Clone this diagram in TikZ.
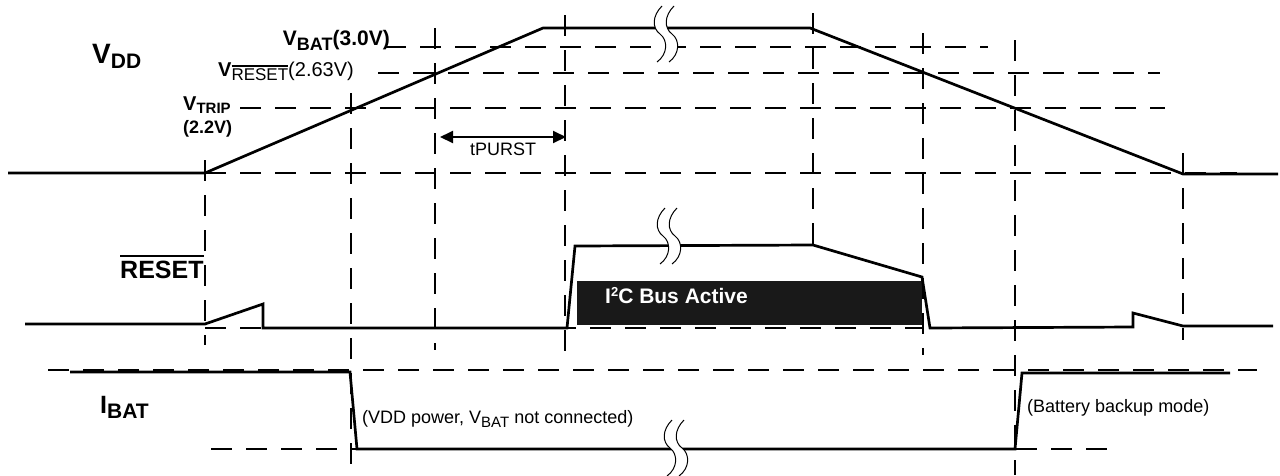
\documentclass[tikz,border=0pt]{standalone}
\usepackage{fontspec}
\setmainfont{Liberation Sans}
\usetikzlibrary{arrows.meta}
\newcommand{\sbx}[3]{\raisebox{-#1pt}{\fontsize{#2}{#2}\selectfont #3}}
\newcommand{\ovl}[3]{\leavevmode\vbox{\hrule height #1pt\kern #2pt\hbox{#3}}}
\begin{document}
\begin{tikzpicture}[x=1pt,y=-1pt,
  grid/.style={line width=1.8pt, dash pattern=on 21pt off 14pt},
  gridthick/.style={line width=2.6pt, dash pattern=on 21pt off 14pt},
  trace/.style={line width=2.7pt},
  lbl/.style={anchor=base west, inner sep=0pt},
  brk/.pic={
    \fill[white] (0,0) .. controls (-10,10) and (-10,22) .. (-2,28) .. controls (6,34) and (6,48) .. (-5,56)
      -- (7,56) .. controls (18,48) and (18,34) .. (10,28) .. controls (2,22) and (2,10) .. (12,0) -- cycle;
    \draw[line width=1pt] (0,0) .. controls (-10,10) and (-10,22) .. (-2,28) .. controls (6,34) and (6,48) .. (-5,56);
    \draw[line width=1pt] (12,0) .. controls (2,10) and (2,22) .. (10,28) .. controls (18,34) and (18,48) .. (7,56);
  }]
\useasboundingbox (0,0) rectangle (1280,475);

% horizontal reference lines
\draw[gridthick] (385,47) -- (988,47);
\draw[gridthick] (378,73) -- (1160,73);
\draw[grid] (240,108) -- (1165,108);
\draw[grid] (205,173) -- (1237,173);
\draw[grid] (205,328) -- (923,328);
\draw[grid] (48,370) -- (1257,370);
\draw[grid] (211,449) -- (1107,449);

% vertical reference lines
\draw[grid] (205,160) -- (205,345);
\draw[grid] (351,93) -- (351,475);
\draw[grid] (435,28) -- (435,350);
\draw[grid] (565,15) -- (565,355);
\draw[grid] (813,13) -- (813,245);
\draw[grid] (923,33) -- (923,355);
\draw[grid] (1015,40) -- (1015,475);
\draw[grid] (1183,153) -- (1183,340);

% I2C box
\fill[black!90] (577,281) rectangle (922,325);
\node[lbl, text=white] (i2c) at (605,303) {\bfseries\fontsize{21}{21}\selectfont I\raisebox{7pt}{\fontsize{13}{13}\selectfont 2}C Bus Active};

% traces
\draw[trace] (8,173) -- (205,173) -- (543,28) -- (810,28) -- (1183,174) -- (1278,174);
\draw[trace] (25,324) -- (205,324) -- (263,304) -- (263,328) -- (567,328) -- (575,246) -- (813,245)
  -- (922,277) -- (930,328) -- (1133,327) -- (1133,313) -- (1183,326) -- (1273,326);
\draw[trace] (70,372) -- (350,372) -- (357,449) -- (1015,449) -- (1022,373) -- (1230,373);

% breaks
\pic at (662,6) {brk};
\pic at (665,208) {brk};
\pic at (672,420) {brk};

% tPURST
\coordinate (ta) at (440,137);
\coordinate (tb) at (566,137);
\draw[line width=2pt, {Triangle[length=13pt,width=12pt]}-{Triangle[length=13pt,width=12pt]}] (ta) -- (tb);
\node[lbl] (tp) at (470,155) {\fontsize{18}{18}\selectfont tPURST};

% labels
\node[lbl] (vdd) at (92,63) {\bfseries\fontsize{28}{28}\selectfont V\sbx{5}{21}{DD}};
\node[anchor=base east, inner sep=0pt] (vbat) at (390,45) {\bfseries\fontsize{21}{21}\selectfont V\sbx{5}{18}{BAT}(3.0V)};
\node[lbl] (vres) at (218,76) {\fontsize{20}{20}\selectfont\textbf{V}\sbx{4}{17}{\ovl{1.2}{1.5}{RESET}}(2.63V)};
\node[lbl] (vtrip) at (183,110) {\bfseries\fontsize{20}{20}\selectfont V\sbx{3}{15}{TRIP}};
\node[lbl] (vtrip2) at (183,133) {\bfseries\fontsize{18}{18}\selectfont (2.2V)};
\node[lbl] (rst) at (120,278) {\bfseries\fontsize{25}{25}\selectfont \ovl{2}{4}{RESET}};
\node[lbl] (ibat) at (100,413) {\bfseries\fontsize{25}{25}\selectfont I\sbx{5}{21}{BAT}};
\node[lbl] (vddp) at (362,423) {\fontsize{18}{18}\selectfont (VDD power, V\sbx{4}{15}{BAT} not connected)};
\node[lbl] (bbm) at (1027,412) {\fontsize{18}{18}\selectfont (Battery backup mode)};
\end{tikzpicture}
\end{document}
